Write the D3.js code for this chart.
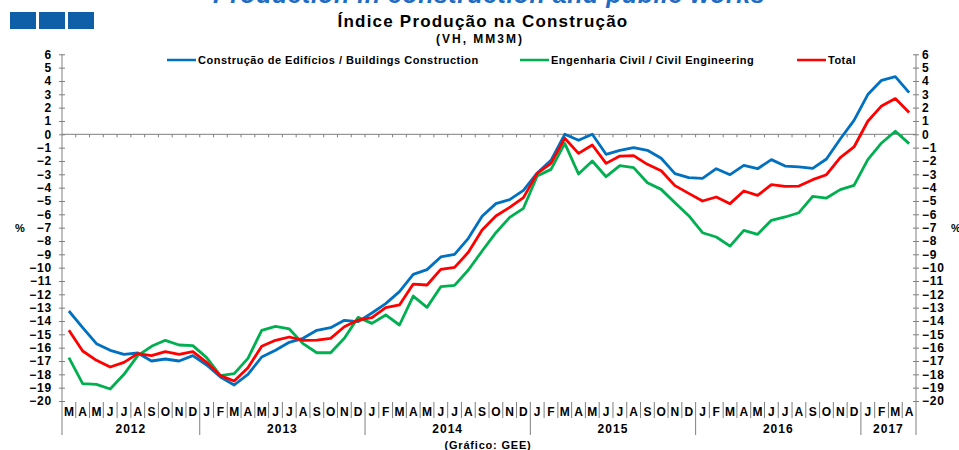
<!DOCTYPE html>
<html>
<head>
<meta charset="utf-8">
<script src="https://cdn.jsdelivr.net/npm/d3@7"></script>
<style>
  body { margin: 0; background: #fff; }
  svg { display: block; font-family: "Liberation Sans", Arial, sans-serif; font-weight: bold; }
</style>
</head>
<body>
<div class="chart_ipc"></div>
<script>
// months on the x axis (Mar 2012 .. Apr 2017)
var months = [
  "2012-03","2012-04","2012-05","2012-06","2012-07","2012-08","2012-09","2012-10","2012-11","2012-12",
  "2013-01","2013-02","2013-03","2013-04","2013-05","2013-06","2013-07","2013-08","2013-09","2013-10","2013-11","2013-12",
  "2014-01","2014-02","2014-03","2014-04","2014-05","2014-06","2014-07","2014-08","2014-09","2014-10","2014-11","2014-12",
  "2015-01","2015-02","2015-03","2015-04","2015-05","2015-06","2015-07","2015-08","2015-09","2015-10","2015-11","2015-12",
  "2016-01","2016-02","2016-03","2016-04","2016-05","2016-06","2016-07","2016-08","2016-09","2016-10","2016-11","2016-12",
  "2017-01","2017-02","2017-03","2017-04"
];
var monthInitials = ["J","F","M","A","M","J","J","A","S","O","N","D"];

// VH, MM3M (%)
var buildings = [
  -13.25,-14.5,-15.7,-16.2,-16.5,-16.4,-17.0,-16.85,-17.0,-16.6,
  -17.3,-18.2,-18.8,-18.0,-16.7,-16.2,-15.6,-15.3,-14.7,-14.5,-13.95,-14.05,
  -13.4,-12.7,-11.8,-10.5,-10.15,-9.2,-9.0,-7.8,-6.15,-5.2,-4.9,-4.2,
  -2.9,-1.95,0.0,-0.45,0.0,-1.5,-1.2,-1.0,-1.2,-1.8,-2.95,-3.25,
  -3.3,-2.58,-3.03,-2.33,-2.58,-1.9,-2.38,-2.45,-2.55,-1.85,-0.35,1.05,
  2.98,4.05,4.33,3.12
];
var civil = [
  -16.75,-18.7,-18.75,-19.1,-18.0,-16.6,-15.9,-15.45,-15.8,-15.85,
  -16.75,-18.1,-17.95,-16.8,-14.7,-14.4,-14.6,-15.7,-16.38,-16.38,-15.3,-13.73,
  -14.18,-13.55,-14.3,-12.13,-12.98,-11.43,-11.33,-10.18,-8.75,-7.38,-6.23,-5.55,
  -3.13,-2.63,-0.68,-2.98,-2.0,-3.18,-2.35,-2.5,-3.63,-4.13,-5.13,-6.1,
  -7.38,-7.7,-8.38,-7.2,-7.5,-6.45,-6.2,-5.88,-4.65,-4.78,-4.15,-3.83,
  -1.9,-0.65,0.23,-0.7
];
var total = [
  -14.7,-16.25,-16.95,-17.45,-17.1,-16.45,-16.6,-16.3,-16.5,-16.3,
  -17.1,-18.1,-18.5,-17.5,-15.9,-15.45,-15.2,-15.45,-15.43,-15.3,-14.43,-13.93,
  -13.75,-13.0,-12.8,-11.23,-11.3,-10.13,-9.98,-8.85,-7.18,-6.13,-5.48,-4.75,
  -2.93,-2.18,-0.3,-1.43,-0.8,-2.18,-1.63,-1.6,-2.25,-2.73,-3.85,-4.43,
  -5.0,-4.7,-5.2,-4.25,-4.58,-3.78,-3.9,-3.88,-3.4,-3.03,-1.75,-0.95,
  0.98,2.13,2.68,1.63
];

var yTicks = d3.range(-20, 7);

var seriesNames = [
  "Construção de Edifícios / Buildings Construction",
  "Engenharia Civil / Civil Engineering",
  "Total"
];
var seriesValues = [buildings, civil, total];
var seriesColors = ["#0070c0", "#00b050", "#ff0000"];

var width = 959, height = 450;
var plotLeft = 62, plotRight = 916, plotTop = 54.3, plotBottom = 401;

var x = d3.scaleBand().domain(months).range([plotLeft, plotRight]);
var y = d3.scaleLinear().domain([-20, 6]).range([plotBottom, plotTop]);
var bw = x.bandwidth();

var svg = d3.select(".chart_ipc").append("svg")
    .attr("width", width)
    .attr("height", height);

// header: cut-off blue title, blue boxes, chart title
svg.append("text")
    .attr("x", 489)
    .attr("y", 3)
    .attr("text-anchor", "middle")
    .style("font-size", "25px")
    .style("letter-spacing", "0.5px")
    .style("font-style", "italic")
    .style("fill", "#1f6cc4")
    .text("Production in construction and public works");

svg.selectAll(".hbox")
    .data([10, 39, 68])
    .enter().append("rect")
    .attr("class", "hbox")
    .attr("x", function(d) { return d; })
    .attr("y", 12)
    .attr("width", 26)
    .attr("height", 17)
    .style("fill", "#0f5fa8");

svg.append("text")
    .attr("x", 483)
    .attr("y", 27)
    .attr("text-anchor", "middle")
    .style("font-size", "17px")
    .style("letter-spacing", "1.2px")
    .text("Índice Produção na Construção");

svg.append("text")
    .attr("x", 480)
    .attr("y", 43)
    .attr("text-anchor", "middle")
    .style("font-size", "12px")
    .style("letter-spacing", "2px")
    .text("(VH, MM3M)");

// y axes, ticks cross the line
var yAxisL = svg.append("g")
    .attr("transform", "translate(" + plotLeft + ",0)")
    .call(d3.axisLeft(y).tickValues(yTicks).tickSize(3).tickPadding(7).tickSizeOuter(0));
yAxisL.selectAll(".tick line").attr("x1", 3);

var yAxisR = svg.append("g")
    .attr("transform", "translate(" + plotRight + ",0)")
    .call(d3.axisRight(y).tickValues(yTicks).tickSize(3).tickPadding(3).tickSizeOuter(0));
yAxisR.selectAll(".tick line").attr("x1", -3);

svg.selectAll(".domain").remove();
svg.selectAll(".tick text")
    .style("font-size", "12px")
    .style("letter-spacing", "0.8px")
    .style("font-family", "Liberation Sans, Arial, sans-serif")
    .style("font-weight", "bold")
    .style("fill", "#000");
svg.selectAll(".tick line").style("stroke", "#7f7f7f");

[plotLeft, plotRight].forEach(function(xx) {
  svg.append("line")
      .attr("x1", xx).attr("x2", xx)
      .attr("y1", plotTop).attr("y2", 435)
      .style("stroke", "#7f7f7f");
});

// zero line with month ticks
svg.append("line")
    .attr("x1", plotLeft).attr("x2", plotRight)
    .attr("y1", y(0)).attr("y2", y(0))
    .style("stroke", "#7f7f7f");

svg.selectAll(".ztick")
    .data(months.slice(1))
    .enter().append("line")
    .attr("class", "ztick")
    .attr("x1", function(d) { return x(d); })
    .attr("x2", function(d) { return x(d); })
    .attr("y1", y(0))
    .attr("y2", y(0) + 3)
    .style("stroke", "#7f7f7f");

// month labels and separators
svg.selectAll(".mlab")
    .data(months)
    .enter().append("text")
    .attr("class", "mlab")
    .attr("x", function(d) { return x(d) + bw / 2; })
    .attr("y", 416)
    .attr("text-anchor", "middle")
    .style("font-size", "12px")
    .text(function(d) { return monthInitials[+d.slice(5) - 1]; });

svg.selectAll(".msep")
    .data(months.slice(1))
    .enter().append("line")
    .attr("class", "msep")
    .attr("x1", function(d) { return x(d); })
    .attr("x2", function(d) { return x(d); })
    .attr("y1", 402)
    .attr("y2", function(d) { return d.slice(5) === "01" ? 435 : 418; })
    .style("stroke", "#7f7f7f");

// year labels centered under their months
var years = d3.groups(months, function(d) { return d.slice(0, 4); });
svg.selectAll(".ylab")
    .data(years)
    .enter().append("text")
    .attr("class", "ylab")
    .attr("x", function(d) {
      var ms = d[1];
      return (x(ms[0]) + x(ms[ms.length - 1]) + bw) / 2;
    })
    .attr("y", 433)
    .attr("text-anchor", "middle")
    .style("font-size", "12px")
    .style("letter-spacing", "1px")
    .text(function(d) { return d[0]; });

svg.append("text")
    .attr("x", 488)
    .attr("y", 449)
    .attr("text-anchor", "middle")
    .style("font-size", "11px")
    .style("letter-spacing", "0.8px")
    .text("(Gráfico: GEE)");

// % labels
svg.append("text").attr("x", 20).attr("y", 232).attr("text-anchor", "middle")
    .style("font-size", "11px").text("%");
svg.append("text").attr("x", 956).attr("y", 232).attr("text-anchor", "middle")
    .style("font-size", "11px").text("%");

// series lines
var line = d3.line()
    .x(function(d, i) { return x(months[i]) + bw / 2; })
    .y(function(d) { return y(d); });

svg.selectAll(".series")
    .data(seriesValues)
    .enter().append("path")
    .attr("class", "series")
    .attr("d", function(d) { return line(d); })
    .style("fill", "none")
    .style("stroke", function(d, i) { return seriesColors[i]; })
    .style("stroke-width", 2.8)
    .style("stroke-linejoin", "round");

// legend
var legendX = [167, 520, 797];
var legend = svg.selectAll(".legend")
    .data(seriesNames)
    .enter().append("g")
    .attr("class", "legend")
    .attr("transform", function(d, i) { return "translate(" + legendX[i] + ",60)"; });

legend.append("line")
    .attr("x1", 0).attr("x2", 29)
    .attr("y1", 0).attr("y2", 0)
    .style("stroke", function(d, i) { return seriesColors[i]; })
    .style("stroke-width", 2.5);

legend.append("text")
    .attr("x", 31)
    .attr("y", 4)
    .style("font-size", "11px")
    .style("letter-spacing", "0.5px")
    .text(function(d) { return d; });
</script>
</body>
</html>
